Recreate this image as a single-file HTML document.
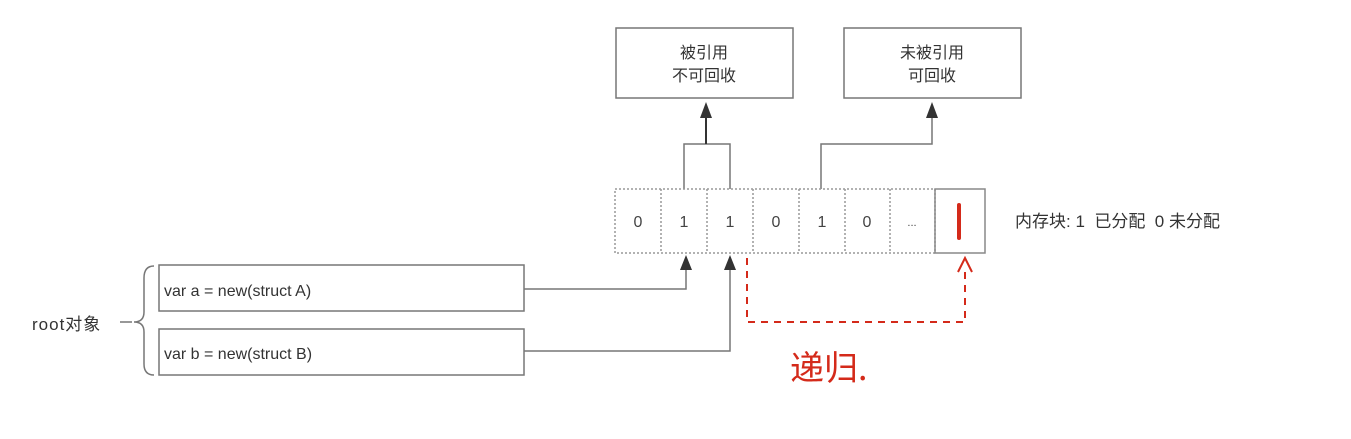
<!DOCTYPE html>
<html><head><meta charset="utf-8"><style>
body{margin:0;width:1351px;height:439px;background:#fff;overflow:hidden;font-family:"Liberation Sans","Noto Sans CJK SC",sans-serif;}
</style></head><body>
<svg width="1351" height="439" xmlns="http://www.w3.org/2000/svg" style="position:absolute;left:0;top:0">
<g font-family="Liberation Sans, Noto Sans CJK SC, sans-serif" fill="#333">
<rect x="616" y="28" width="177" height="70" fill="none" stroke="#777" stroke-width="1.5"/>
<text x="704" y="58" font-size="16" text-anchor="middle">被引用</text>
<text x="704" y="81" font-size="16" text-anchor="middle">不可回收</text>
<rect x="844" y="28" width="177" height="70" fill="none" stroke="#777" stroke-width="1.5"/>
<text x="932" y="58" font-size="16" text-anchor="middle">未被引用</text>
<text x="932" y="81" font-size="16" text-anchor="middle">可回收</text>
</g>
<g stroke="#777" stroke-width="1.5" fill="none">
<path d="M684,189 V144 H730 V189"/>
<path d="M821,189 V144 H932 V118"/>
<path d="M524,289 H686 V265"/>
<path d="M524,351 H730 V265"/>
</g>
<line x1="706" y1="144" x2="706" y2="114" stroke="#333" stroke-width="2"/>
<path d="M700,118 L706,102 L712,118 Z" fill="#333"/>
<path d="M926,118 L932,102 L938,118 Z" fill="#333"/>
<path d="M680,270 L686,255 L692,270 Z" fill="#333"/>
<path d="M724,270 L730,255 L736,270 Z" fill="#333"/>
<g stroke="#999" stroke-width="1.5" stroke-dasharray="2,2" fill="none">
<rect x="615" y="189" width="320" height="64"/>
<line x1="661" y1="189" x2="661" y2="253"/>
<line x1="707" y1="189" x2="707" y2="253"/>
<line x1="753" y1="189" x2="753" y2="253"/>
<line x1="799" y1="189" x2="799" y2="253"/>
<line x1="845" y1="189" x2="845" y2="253"/>
<line x1="890" y1="189" x2="890" y2="253"/>
</g>
<rect x="935" y="189" width="50" height="64" fill="none" stroke="#888" stroke-width="1.5"/>
<g font-family="Liberation Sans, sans-serif" font-size="16" fill="#444" text-anchor="middle">
<text x="638" y="227">0</text><text x="684" y="227">1</text><text x="730" y="227">1</text>
<text x="776" y="227">0</text><text x="822" y="227">1</text><text x="867" y="227">0</text>
<text x="912" y="226" font-size="11">...</text>
</g>
<line x1="959" y1="205" x2="959" y2="238" stroke="#d42a1a" stroke-width="4" stroke-linecap="round"/>
<text x="1015" y="227" font-size="17" fill="#333" font-family="Liberation Sans, Noto Sans CJK SC, sans-serif" xml:space="preserve">内存块: 1  已分配  0 未分配</text>
<rect x="159" y="265" width="365" height="46" fill="none" stroke="#777" stroke-width="1.5"/>
<rect x="159" y="329" width="365" height="46" fill="none" stroke="#777" stroke-width="1.5"/>
<text x="164" y="296" font-size="16" fill="#333" font-family="Liberation Sans, sans-serif">var a = new(struct A)</text>
<text x="164" y="359" font-size="16" fill="#333" font-family="Liberation Sans, sans-serif">var b = new(struct B)</text>
<text x="32" y="330" font-size="17" letter-spacing="1" fill="#333" font-family="Liberation Sans, Noto Sans CJK SC, sans-serif">root对象</text>
<path d="M120,322 H132 M154,266 Q144,266 144,278 V312 Q144,322 134,322 Q144,322 144,332 V364 Q144,375 154,375" fill="none" stroke="#777" stroke-width="1.5"/>
<path d="M747,258 V322 H965 V268" fill="none" stroke="#d42a1a" stroke-width="2" stroke-dasharray="7,6"/>
<path d="M958,272 L965,258 L972,272" fill="none" stroke="#d42a1a" stroke-width="2"/>
<text x="790" y="380" font-size="34" fill="#d42a1a" font-family="Noto Sans CJK SC, sans-serif">递归.</text>
</svg>
</body></html>
